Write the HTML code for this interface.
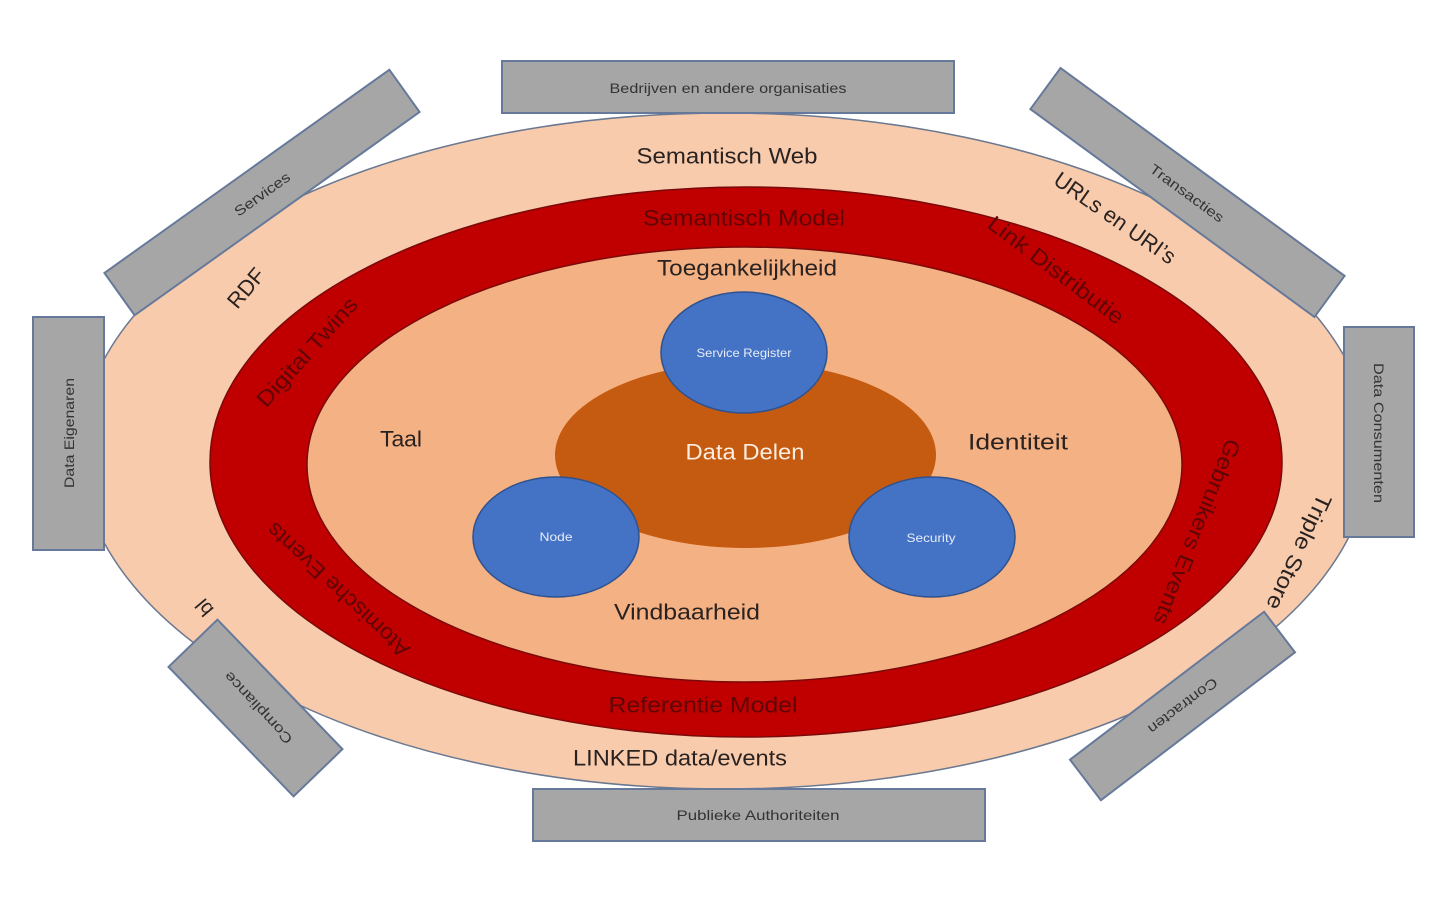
<!DOCTYPE html>
<html>
<head>
<meta charset="utf-8">
<style>
  html,body{margin:0;padding:0;background:#ffffff;}
  svg{display:block;}
  text{font-family:"Liberation Sans",sans-serif;}
</style>
</head>
<body>
<svg width="1440" height="898" viewBox="0 0 1440 898" xmlns="http://www.w3.org/2000/svg">
  <rect x="0" y="0" width="1440" height="898" fill="#ffffff"/>

  <!-- Outer ellipse -->
  <ellipse cx="725" cy="451" rx="645" ry="338" fill="#f8cbad" stroke="#6a7890" stroke-width="1.5"/>

  <!-- Red ring -->
  <ellipse cx="746" cy="462" rx="536" ry="275" fill="#c00000" stroke="#7a0a0a" stroke-width="1.5"/>
  <!-- Inner ellipse -->
  <ellipse cx="744.5" cy="464.5" rx="437.5" ry="217.5" fill="#f4b183" stroke="#7a0a0a" stroke-width="1.5"/>

  <!-- Data Delen -->
  <ellipse cx="745.5" cy="455" rx="190.5" ry="93" fill="#c55a11"/>

  <!-- Blue ellipses -->
  <ellipse cx="744" cy="352.5" rx="83" ry="60.5" fill="#4472c4" stroke="#2f528f" stroke-width="1.5"/>
  <ellipse cx="556" cy="537" rx="83" ry="60" fill="#4472c4" stroke="#2f528f" stroke-width="1.5"/>
  <ellipse cx="932" cy="537" rx="83" ry="60" fill="#4472c4" stroke="#2f528f" stroke-width="1.5"/>

  <!-- Boxes -->
  <g fill="#a6a6a6" stroke="#66799a" stroke-width="2">
    <rect x="502" y="61" width="452" height="52"/>
    <rect x="533" y="789" width="452" height="52"/>
    <rect x="33" y="317" width="71" height="233"/>
    <rect x="1344" y="327" width="70" height="210"/>
    <rect x="-175" y="-26" width="350" height="52" transform="translate(262,192.5) rotate(-35.5)"/>
    <rect x="-176" y="-25.5" width="352" height="51" transform="translate(1187.5,192.5) rotate(36.2)"/>
    <rect x="-90" y="-34" width="180" height="68" transform="translate(255.5,708) rotate(46)"/>
    <rect x="-122" y="-25.5" width="244" height="51" transform="translate(1182.5,706) rotate(-37.3)"/>
  </g>

  <!-- Box labels -->
  <g fill="#333333" font-size="14" text-anchor="middle" dominant-baseline="central">
    <text x="728" y="88" textLength="237" lengthAdjust="spacingAndGlyphs">Bedrijven en andere organisaties</text>
    <text x="758" y="815" textLength="163" lengthAdjust="spacingAndGlyphs">Publieke Authoriteiten</text>
    <text transform="translate(69,433) rotate(-90)" textLength="110" lengthAdjust="spacingAndGlyphs">Data Eigenaren</text>
    <text transform="translate(1379,433) rotate(90)" textLength="140" lengthAdjust="spacingAndGlyphs">Data Consumenten</text>
    <text transform="translate(262,194) rotate(-35.5)" textLength="65" lengthAdjust="spacingAndGlyphs">Services</text>
    <text transform="translate(1187,193) rotate(36.2)" textLength="88" lengthAdjust="spacingAndGlyphs">Transacties</text>
    <text transform="translate(258,708) rotate(-133)" textLength="93" lengthAdjust="spacingAndGlyphs">Compliance</text>
    <text transform="translate(1183,706) rotate(143)" textLength="83" lengthAdjust="spacingAndGlyphs">Contracten</text>
  </g>

  <!-- Outer ring labels -->
  <g fill="#2a2220" font-size="22" text-anchor="middle" dominant-baseline="central">
    <text x="727" y="156" textLength="181" lengthAdjust="spacingAndGlyphs">Semantisch Web</text>
    <text x="680" y="758" textLength="214" lengthAdjust="spacingAndGlyphs">LINKED data/events</text>
    <text transform="translate(246,288) rotate(-50)" textLength="45" lengthAdjust="spacingAndGlyphs">RDF</text>
    <text transform="translate(1115,218) rotate(35)" textLength="143" lengthAdjust="spacingAndGlyphs">URLs en URI’s</text>
    <text transform="translate(1299,552) rotate(115)" textLength="125" lengthAdjust="spacingAndGlyphs">Triple Store</text>
    <text transform="translate(205,607) rotate(-130)" font-size="20">bl</text>
  </g>

  <!-- Red ring labels -->
  <g fill="#5e0505" font-size="22" text-anchor="middle" dominant-baseline="central">
    <text x="744" y="218" textLength="202" lengthAdjust="spacingAndGlyphs">Semantisch Model</text>
    <text x="703" y="705" textLength="189" lengthAdjust="spacingAndGlyphs">Referentie Model</text>
    <text transform="translate(307,352) rotate(-48)" textLength="139" lengthAdjust="spacingAndGlyphs">Digital Twins</text>
    <text transform="translate(1056,270) rotate(37)" textLength="164" lengthAdjust="spacingAndGlyphs">Link Distributie</text>
    <text transform="translate(1197,532) rotate(112)" textLength="198" lengthAdjust="spacingAndGlyphs">Gebruikers Events</text>
    <text transform="translate(338,590) rotate(-137)" textLength="186" lengthAdjust="spacingAndGlyphs">Atomische Events</text>
  </g>

  <!-- Inner labels -->
  <g fill="#2a2220" font-size="22" text-anchor="middle" dominant-baseline="central">
    <text x="747" y="268" textLength="180" lengthAdjust="spacingAndGlyphs">Toegankelijkheid</text>
    <text x="401" y="439" textLength="42" lengthAdjust="spacingAndGlyphs">Taal</text>
    <text x="1018" y="442" textLength="100" lengthAdjust="spacingAndGlyphs">Identiteit</text>
    <text x="687" y="612" textLength="146" lengthAdjust="spacingAndGlyphs">Vindbaarheid</text>
  </g>

  <!-- Center labels -->
  <g fill="#fbeee0" text-anchor="middle" dominant-baseline="central">
    <text x="745" y="452" font-size="22" textLength="119" lengthAdjust="spacingAndGlyphs">Data Delen</text>
  </g>
  <g fill="#e6ecf8" font-size="12" text-anchor="middle" dominant-baseline="central">
    <text x="744" y="353" textLength="95" lengthAdjust="spacingAndGlyphs">Service Register</text>
    <text x="556" y="537" textLength="33" lengthAdjust="spacingAndGlyphs">Node</text>
    <text x="931" y="538" textLength="49" lengthAdjust="spacingAndGlyphs">Security</text>
  </g>
</svg>
</body>
</html>
